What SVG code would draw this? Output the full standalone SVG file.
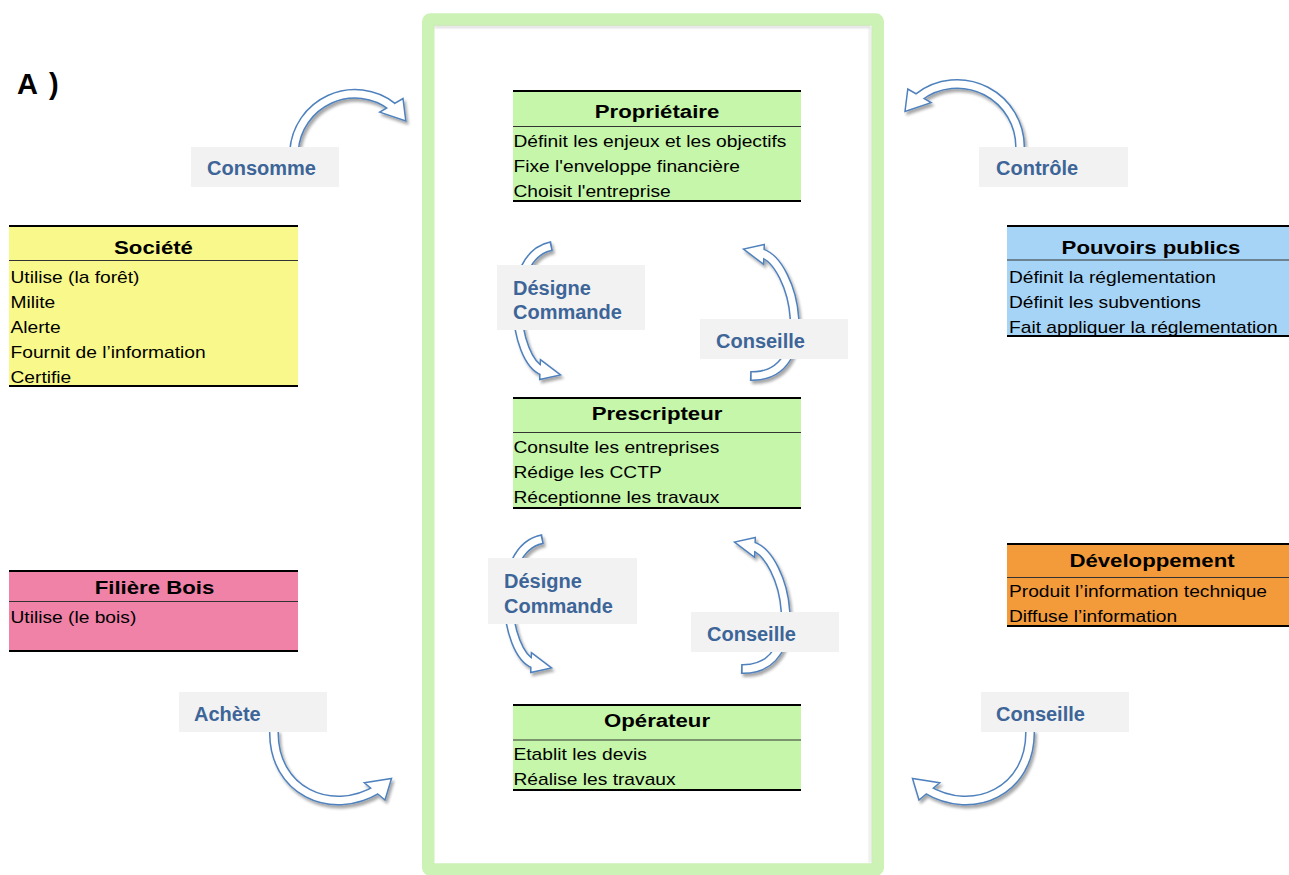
<svg xmlns="http://www.w3.org/2000/svg" width="1289" height="875" viewBox="0 0 1289 875">
<defs>
<filter id="sh" x="-20%" y="-20%" width="140%" height="140%">
<feGaussianBlur in="SourceAlpha" stdDeviation="1.5"/>
<feOffset dx="1.5" dy="2.5" result="o"/>
<feComponentTransfer><feFuncA type="linear" slope="0.35"/></feComponentTransfer>
<feMerge><feMergeNode/><feMergeNode in="SourceGraphic"/></feMerge>
</filter>
<filter id="blur1"><feGaussianBlur stdDeviation="0.8"/></filter>
</defs>
<style>
.t{font-family:"Liberation Sans",Arial,sans-serif;font-weight:bold;font-size:18.5px;fill:#000;text-anchor:middle}
.b{font-family:"Liberation Sans",Arial,sans-serif;font-size:16px;fill:#000}
.edge{stroke:#000;stroke-width:2}
.sep{stroke:#333;stroke-width:1}
.lb{fill:#F2F2F2}
.lt{font-family:"Liberation Sans",Arial,sans-serif;font-weight:bold;font-size:20px;fill:#3D6598}
.bo{fill:none;stroke:#4F81BD;stroke-width:10}
.bi{fill:none;stroke:#FFFFFF;stroke-width:7;stroke-dasharray:0 1.6 3000}
.hd{fill:#FFFFFF;stroke:#4F81BD;stroke-width:1.5;stroke-linejoin:miter}
</style>
<rect width="1289" height="875" fill="#FFFFFF"/>

<g id="frame">
<rect x="428.25" y="19.5" width="449.5" height="850" rx="2" fill="#FFFFFF" stroke="#CDF2B5" stroke-width="12.5"/>
<g filter="url(#blur1)" opacity="0.5">
<line x1="434.5" y1="27" x2="870.5" y2="27" stroke="#999" stroke-width="1.5"/>
<line x1="870" y1="27" x2="870" y2="863" stroke="#999" stroke-width="1"/>
</g>
</g>

<text x="17" y="94" font-family="Liberation Sans,Arial,sans-serif" font-weight="bold" font-size="29" letter-spacing="2" fill="#000">A )</text>

<g id="connectors">
<g id="arrow-consomme" filter="url(#sh)">
<path class="bo" d="M 294 152 A 61 61 0 0 1 392.6 106.9"/>
<polygon class="hd" points="403,98.5 405.8,121 379.7,112.1"/>
<path class="bi" d="M 294 152 A 61 61 0 0 1 392.6 106.9"/>
</g>
<g id="arrow-controle" filter="url(#sh)">
<path class="bo" d="M 1020 150 A 63 63 0 0 0 918.2 97.4"/>
<polygon class="hd" points="907.8,89 905,111.5 931.1,102.6"/>
<path class="bi" d="M 1020 150 A 63 63 0 0 0 918.2 97.4"/>
</g>
<g id="arrow-designe-1" filter="url(#sh)">
<path class="bo" d="M 552 246 C 502 255 513 360 543 371"/>
<polygon class="hd" points="540.4,359.7 560.5,374.9 539.7,379.6"/>
<path class="bi" d="M 552 246 C 502 255 513 360 543 371"/>
</g>
<g id="arrow-conseille-1" filter="url(#sh)">
<path class="bo" d="M 750 376 C 820 378 795 262 761 253"/>
<polygon class="hd" points="764.3,244.4 743.5,249.1 763.6,264.3"/>
<path class="bi" d="M 750 376 C 820 378 795 262 761 253"/>
</g>
<g transform="translate(-9,293)">
<g id="arrow-designe-2" filter="url(#sh)">
<path class="bo" d="M 552 246 C 502 255 513 360 543 371"/>
<polygon class="hd" points="540.4,359.7 560.5,374.9 539.7,379.6"/>
<path class="bi" d="M 552 246 C 502 255 513 360 543 371"/>
</g>
<g id="arrow-conseille-2" filter="url(#sh)">
<path class="bo" d="M 750 376 C 820 378 795 262 761 253"/>
<polygon class="hd" points="764.3,244.4 743.5,249.1 763.6,264.3"/>
<path class="bi" d="M 750 376 C 820 378 795 262 761 253"/>
</g>
</g>
<g id="arrow-achete" filter="url(#sh)">
<path class="bo" d="M 274 730 C 272 790 330 818 378 789"/>
<polygon class="hd" points="385,800 391.5,778.4 364.3,782.8"/>
<path class="bi" d="M 274 730 C 272 790 330 818 378 789"/>
</g>
<g id="arrow-conseille-3" filter="url(#sh)">
<g transform="matrix(-1 0 0 1 1304 0)">
<path class="bo" d="M 274 730 C 272 790 330 818 378 789"/>
<polygon class="hd" points="385,800 391.5,778.4 364.3,782.8"/>
<path class="bi" d="M 274 730 C 272 790 330 818 378 789"/>
</g>
</g>
</g>

<g id="labels">
<rect class="lb" x="191" y="147" width="148" height="40"/>
<text class="lt" x="207" y="175">Consomme</text>
<rect class="lb" x="979" y="147" width="149" height="40"/>
<text class="lt" x="996" y="175">Contrôle</text>
<rect class="lb" x="497" y="265" width="148" height="65"/>
<text class="lt" x="513" y="295">Désigne</text>
<text class="lt" x="513" y="319">Commande</text>
<rect class="lb" x="700" y="319" width="148" height="40"/>
<text class="lt" x="716" y="348">Conseille</text>
<rect class="lb" x="488" y="558" width="149" height="66"/>
<text class="lt" x="504" y="588">Désigne</text>
<text class="lt" x="504" y="613">Commande</text>
<rect class="lb" x="691" y="612" width="148" height="40"/>
<text class="lt" x="707" y="641">Conseille</text>
<rect class="lb" x="179" y="692" width="148" height="40"/>
<text class="lt" x="194" y="721">Achète</text>
<rect class="lb" x="981" y="692" width="148" height="40"/>
<text class="lt" x="996" y="721">Conseille</text>
</g>

<g id="proprietaire">
<rect x="513" y="90" width="288" height="112" fill="#C5F6A9"/>
<line class="edge" x1="513" y1="91" x2="801" y2="91"/>
<line class="sep" x1="513" y1="126.5" x2="801" y2="126.5"/>
<line class="edge" x1="513" y1="201" x2="801" y2="201"/>
<text class="t" transform="translate(657,118) scale(1.2,1)">Propriétaire</text>
<text class="b" transform="translate(513.5,147) scale(1.2,1)">Définit les enjeux et les objectifs</text>
<text class="b" transform="translate(513.5,172) scale(1.2,1)">Fixe l'enveloppe financière</text>
<text class="b" transform="translate(513.5,197) scale(1.2,1)">Choisit l'entreprise</text>
</g>

<g id="prescripteur">
<rect x="513" y="397" width="288" height="112" fill="#C5F6A9"/>
<line class="edge" x1="513" y1="398" x2="801" y2="398"/>
<line class="sep" x1="513" y1="432.5" x2="801" y2="432.5"/>
<line class="edge" x1="513" y1="508" x2="801" y2="508"/>
<text class="t" transform="translate(657,420) scale(1.2,1)">Prescripteur</text>
<text class="b" transform="translate(513.5,453) scale(1.2,1)">Consulte les entreprises</text>
<text class="b" transform="translate(513.5,478) scale(1.2,1)">Rédige les CCTP</text>
<text class="b" transform="translate(513.5,503) scale(1.2,1)">Réceptionne les travaux</text>
</g>

<g id="operateur">
<rect x="513" y="704" width="288" height="87" fill="#C5F6A9"/>
<line class="edge" x1="513" y1="705" x2="801" y2="705"/>
<line class="sep" x1="513" y1="740" x2="801" y2="740"/>
<line class="edge" x1="513" y1="790" x2="801" y2="790"/>
<text class="t" transform="translate(657,727) scale(1.2,1)">Opérateur</text>
<text class="b" transform="translate(513.5,760) scale(1.2,1)">Etablit les devis</text>
<text class="b" transform="translate(513.5,785) scale(1.2,1)">Réalise les travaux</text>
</g>

<g id="societe">
<rect x="9" y="225" width="289" height="162" fill="#F9F98B"/>
<line class="edge" x1="9" y1="226" x2="298" y2="226"/>
<line class="sep" x1="9" y1="260.5" x2="298" y2="260.5"/>
<line class="edge" x1="9" y1="386" x2="298" y2="386"/>
<text class="t" transform="translate(153.5,253.5) scale(1.2,1)">Société</text>
<text class="b" transform="translate(10.5,282.5) scale(1.2,1)">Utilise (la forêt)</text>
<text class="b" transform="translate(10.5,307.5) scale(1.2,1)">Milite</text>
<text class="b" transform="translate(10.5,332.5) scale(1.2,1)">Alerte</text>
<text class="b" transform="translate(10.5,357.5) scale(1.2,1)">Fournit de l’information</text>
<text class="b" transform="translate(10.5,382.5) scale(1.2,1)">Certifie</text>
</g>

<g id="filiere-bois">
<rect x="9" y="570" width="289" height="82" fill="#EF82A6"/>
<line class="edge" x1="9" y1="571" x2="298" y2="571"/>
<line class="sep" x1="9" y1="601.5" x2="298" y2="601.5"/>
<line class="edge" x1="9" y1="651" x2="298" y2="651"/>
<text class="t" transform="translate(154.5,593.5) scale(1.2,1)">Filière Bois</text>
<text class="b" transform="translate(10.5,622.5) scale(1.2,1)">Utilise (le bois)</text>
</g>

<g id="pouvoirs-publics">
<rect x="1007" y="225" width="289" height="112" fill="#A6D4F6"/>
<line class="edge" x1="1007" y1="226" x2="1296" y2="226"/>
<line class="sep" x1="1007" y1="260" x2="1296" y2="260"/>
<line class="edge" x1="1007" y1="336" x2="1296" y2="336"/>
<text class="t" transform="translate(1151,253.5) scale(1.2,1)">Pouvoirs publics</text>
<text class="b" transform="translate(1009,282.5) scale(1.2,1)">Définit la réglementation</text>
<text class="b" transform="translate(1009,307.5) scale(1.2,1)">Définit les subventions</text>
<text class="b" transform="translate(1009,332.5) scale(1.2,1)">Fait appliquer la réglementation</text>
</g>

<g id="developpement">
<rect x="1007" y="543" width="289" height="84" fill="#F39B3B"/>
<line class="edge" x1="1007" y1="544" x2="1296" y2="544"/>
<line class="sep" x1="1007" y1="577.5" x2="1296" y2="577.5"/>
<line class="edge" x1="1007" y1="626" x2="1296" y2="626"/>
<text class="t" transform="translate(1152,566.5) scale(1.2,1)">Développement</text>
<text class="b" transform="translate(1009,596.5) scale(1.2,1)">Produit l’information technique</text>
<text class="b" transform="translate(1009,621.5) scale(1.2,1)">Diffuse l’information</text>
</g>
</svg>
